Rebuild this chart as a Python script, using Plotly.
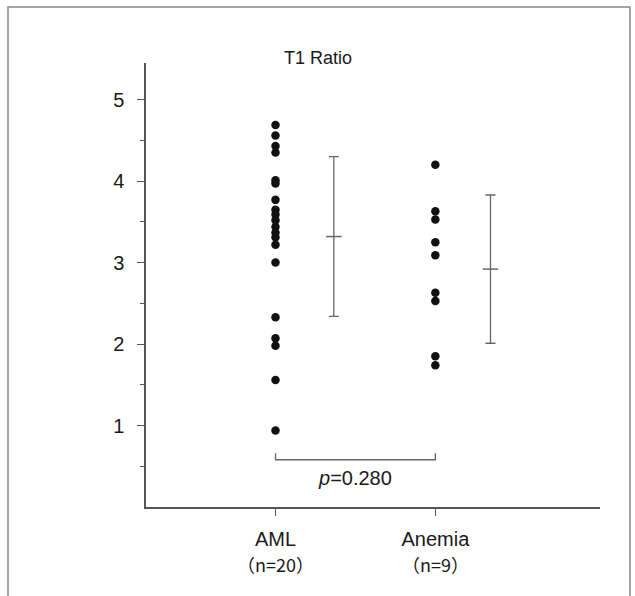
import plotly.graph_objects as go

# ---- data ----
groups = ["AML", "Anemia"]
group_counts = ["（n=20）", "（n=9）"]
aml_values = [4.69, 4.56, 4.43, 4.35, 4.01, 3.97, 3.77, 3.65, 3.59, 3.52,
              3.44, 3.37, 3.31, 3.22, 3.00, 2.33, 2.07, 1.98, 1.56, 0.94]
anemia_values = [4.20, 3.63, 3.53, 3.25, 3.09, 2.63, 2.53, 1.85, 1.74]
group_means = [3.32, 2.92]
group_sds = [0.98, 0.91]
y_ticks = [1, 2, 3, 4, 5]
p_text = "<i>p</i>=0.280"
title_text = "T1 Ratio"

W, H = 635, 596
ML, MR, MT, MB = 146, 35, 63, 89
FONT = "Liberation Sans, Arial, sans-serif"
CJK = "Noto Sans CJK JP"
AX = "#555555"
TXT = "#1a1a1a"

fig = go.Figure()

# dots
fig.add_trace(go.Scatter(x=[1] * len(aml_values), y=aml_values, mode="markers",
                         marker=dict(color="#111111", size=8.5), showlegend=False))
fig.add_trace(go.Scatter(x=[2] * len(anemia_values), y=anemia_values, mode="markers",
                         marker=dict(color="#111111", size=8.5), showlegend=False))

# mean ± SD bars
bar_x = [1.365, 2.345]
fig.add_trace(go.Scatter(
    x=bar_x, y=group_means, mode="markers",
    marker=dict(symbol="line-ew-open", size=11, color="#666666",
                line=dict(color="#666666", width=1.5)),
    error_y=dict(type="data", array=group_sds, symmetric=True, color="#666666",
                 thickness=1.3, width=5),
    showlegend=False))

# p-value bracket
fig.add_trace(go.Scatter(x=[1, 1, 2, 2], y=[0.66, 0.58, 0.58, 0.66], mode="lines",
                         line=dict(color="#666666", width=1.3), showlegend=False,
                         hoverinfo="skip"))
fig.add_annotation(x=1.5, y=0.36, text=p_text, showarrow=False,
                   font=dict(size=20, color=TXT, family=FONT))

pw = W - ML - MR
ph = H - MT - MB
def px2paper_x(px):
    return (px - ML) / pw
def px2paper_y(py):
    return 1 - (py - MT) / ph

# frame around the whole figure
fig.add_shape(type="rect", xref="paper", yref="paper",
              x0=px2paper_x(8), x1=px2paper_x(630),
              y0=px2paper_y(605), y1=px2paper_y(7),
              line=dict(color="#888888", width=1.5), layer="below")

fig.add_annotation(xref="paper", yref="paper", x=px2paper_x(318), y=px2paper_y(46),
                   text=title_text, showarrow=False,
                   font=dict(size=18, color=TXT, family=FONT))

# group counts under category labels
for gx, c in zip([1, 2], group_counts):
    fig.add_annotation(x=gx, xref="x", yref="paper", y=px2paper_y(564),
                       text=c, showarrow=False, yanchor="middle",
                       font=dict(size=18, color=TXT, family=CJK))

fig.update_layout(
    width=W, height=H,
    margin=dict(l=ML, r=MR, t=MT, b=MB),
    paper_bgcolor="white", plot_bgcolor="white",
    font=dict(family=FONT, size=18, color=TXT),
    showlegend=False,
)
fig.update_xaxes(range=[0.19, 3.03], tickvals=[1, 2], ticktext=groups,
                 showgrid=False, zeroline=False, showline=True, linecolor=AX,
                 linewidth=1.5, ticks="outside", ticklen=7, tickcolor=AX,
                 tickwidth=1.3, ticklabelstandoff=6,
                 tickfont=dict(size=20, color=TXT, family=FONT))
fig.update_yaxes(range=[0, 5.45], tickvals=y_ticks, ticktext=[str(v) for v in y_ticks],
                 showgrid=False, zeroline=False, showline=True, linecolor=AX,
                 linewidth=1.5, ticks="outside", ticklen=7, tickcolor=AX,
                 tickwidth=1.3, ticklabelstandoff=9,
                 minor=dict(tickvals=[0.5, 1.5, 2.5, 3.5, 4.5], ticks="outside",
                            ticklen=4, tickcolor=AX, tickwidth=1.1),
                 tickfont=dict(size=20, color=TXT, family=FONT))

fig.write_html("out.html")
